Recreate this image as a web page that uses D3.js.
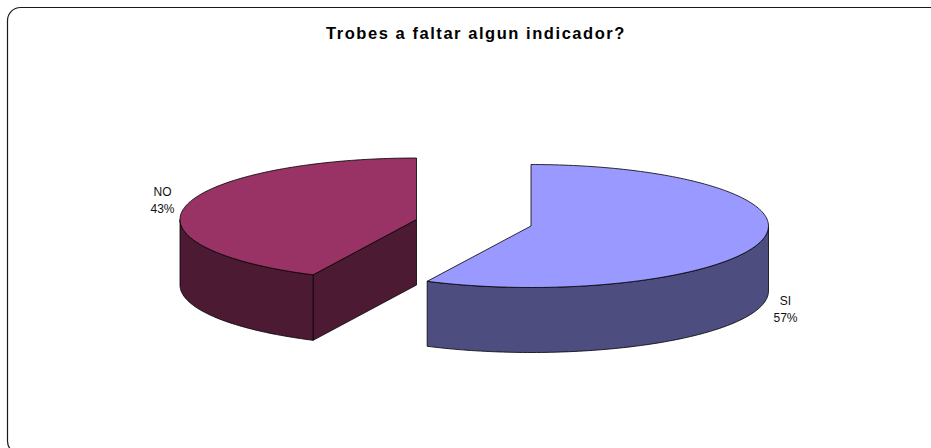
<!DOCTYPE html>
<html><head><meta charset="utf-8">
<script src="https://cdn.jsdelivr.net/npm/d3@7/dist/d3.min.js"></script>
<style>html,body{margin:0;padding:0;background:#fff;overflow:hidden}svg{display:block}text{font-family:"Liberation Sans",Arial,sans-serif}</style>
</head><body><svg id="c" width="931" height="448"></svg>
<script>
const categories = ["SI", "NO"];
const values = [57.2, 42.8];
const topColors = ["#9999FF", "#993366"];
const sideColors = ["#4D4D80", "#4D1A33"];
const title = "Trobes a faltar algun indicador?";

const svg = d3.select("#c");

// frame: right and bottom edges run off the picture
svg.append("path")
  .attr("d", "M20.5,454 A13,13 0 0 1 7.5,441 V20.5 A13,13 0 0 1 20.5,7.5 H940")
  .attr("fill", "none").attr("stroke", "#1a1a1a").attr("stroke-width", 1.2);

svg.append("text").attr("x", 476).attr("y", 39).attr("text-anchor", "middle")
  .attr("font-size", 16.5).attr("font-weight", "bold").attr("letter-spacing", 1.55)
  .attr("fill", "#000").text(title);

const pie = d3.pie().value(d => d).sort(null);
const arcs = pie(values);

// placement of each exploded slice: centre, radii, wall depth
const layout = [
  {cx: 531, cy: 226, rx: 237.5, ry: 61.5, depth: 65, lx: 785.5, ly: 305},
  {cx: 416.5, cy: 219.5, rx: 236.5, ry: 61.5, depth: 65.5, lx: 162.5, ly: 196}
];
const polyline = d3.line().x(p => p[0]).y(p => p[1]);

function pt(l, a, dz) {
  return [l.cx + l.rx * Math.sin(a), l.cy - l.ry * Math.cos(a) + (dz || 0)];
}
function sample(a0, a1) {
  const n = Math.max(2, Math.ceil(Math.abs(a1 - a0) / 0.02));
  return d3.range(n + 1).map(i => a0 + (a1 - a0) * i / n);
}
function wall(pts, fill) {
  svg.append("path").attr("d", polyline(pts) + "Z").attr("fill", fill)
    .attr("stroke", "#000").attr("stroke-width", 0.8).attr("stroke-linejoin", "round");
}

arcs.forEach((d, i) => {
  const l = layout[i];
  const side = sideColors[i], top = topColors[i];
  const s = d.startAngle, e = d.endAngle;

  // cut face visible at the front of the NO slice
  if (i === 1) {
    wall([[l.cx, l.cy], pt(l, s), pt(l, s, l.depth), [l.cx, l.cy + l.depth]], side);
  }
  // outer rim wall: the part of the arc facing the viewer
  const a0 = Math.max(s, Math.PI / 2), a1 = Math.min(e, 3 * Math.PI / 2);
  if (a1 > a0) {
    const ang = sample(a0, a1);
    wall(ang.map(a => pt(l, a)).concat(ang.slice().reverse().map(a => pt(l, a, l.depth))), side);
  }
  // top face
  const rim = sample(s, e).map(a => pt(l, a));
  svg.append("path").attr("d", polyline([[l.cx, l.cy]].concat(rim)) + "Z")
    .attr("fill", top).attr("stroke", "#000").attr("stroke-width", 0.8).attr("stroke-linejoin", "round");

  // label
  const t = svg.append("text").attr("text-anchor", "middle").attr("font-size", 12).attr("fill", "#111");
  t.append("tspan").attr("x", l.lx).attr("y", l.ly).text(categories[i]);
  t.append("tspan").attr("x", l.lx).attr("y", l.ly + 17).text(Math.round(values[i]) + "%");
});
</script></body></html>
